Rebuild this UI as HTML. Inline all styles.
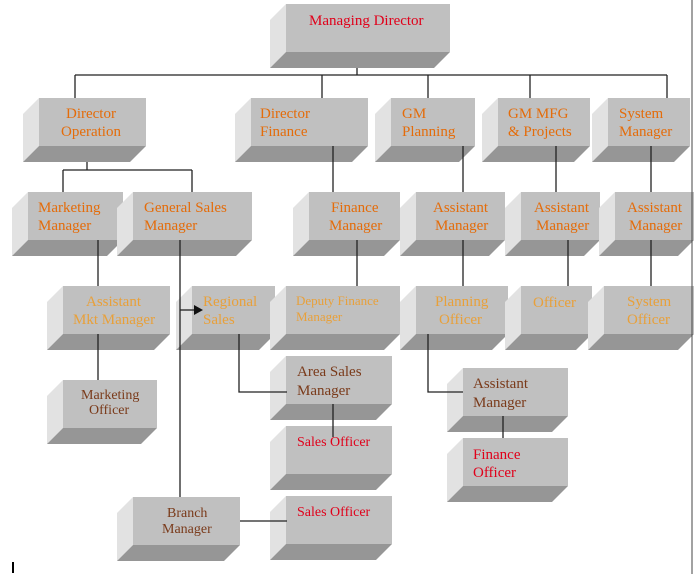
<!DOCTYPE html>
<html><head><style>
html,body{margin:0;padding:0;background:#fff}
svg{display:block}
text{font-family:"Liberation Serif",serif;font-size:15px}
.o{fill:#e46c0a}.r{fill:#e0001a}.b{fill:#7a3a1a}.l{fill:#e8a03a}
.f{fill:#c0c0c0}.s{fill:#e2e2e2}.d{fill:#969696}
line,polyline{stroke:#222;stroke-width:1.3;fill:none}
</style></head><body>
<svg width="694" height="574" viewBox="0 0 694 574">
<!-- connectors -->
<line x1="357" y1="68" x2="357" y2="75"/>
<line x1="75" y1="75" x2="667" y2="75"/>
<line x1="75" y1="75" x2="75" y2="98"/>
<line x1="322" y1="75" x2="322" y2="98"/>
<line x1="428" y1="75" x2="428" y2="98"/>
<line x1="530" y1="75" x2="530" y2="98"/>
<line x1="667" y1="75" x2="667" y2="98"/>
<line x1="87" y1="146" x2="87" y2="170"/>
<line x1="63" y1="170" x2="192" y2="170"/>
<line x1="63" y1="170" x2="63" y2="192"/>
<line x1="192" y1="170" x2="192" y2="192"/>

<!-- boxes -->
<g id="boxes">
<!-- MD 270,4,450,68 -->
<polygon class="s" points="270,20 286,4 286,52 270,68"/><polygon class="d" points="270,68 286,52 450,52 434,68"/><rect class="f" x="286" y="4" width="164" height="48"/>
<!-- DO 23,98,146,162 -->
<polygon class="s" points="23,114 39,98 39,146 23,162"/><polygon class="d" points="23,162 39,146 146,146 130,162"/><rect class="f" x="39" y="98" width="107" height="48"/>
<!-- DF 235,98,368,162 -->
<polygon class="s" points="235,114 251,98 251,146 235,162"/><polygon class="d" points="235,162 251,146 368,146 352,162"/><rect class="f" x="251" y="98" width="117" height="48"/>
<!-- GMP 375,98,475,162 -->
<polygon class="s" points="375,114 391,98 391,146 375,162"/><polygon class="d" points="375,162 391,146 475,146 459,162"/><rect class="f" x="391" y="98" width="84" height="48"/>
<!-- GMM 482,98,590,162 -->
<polygon class="s" points="482,114 498,98 498,146 482,162"/><polygon class="d" points="482,162 498,146 590,146 574,162"/><rect class="f" x="498" y="98" width="92" height="48"/>
<!-- SM 592,98,690,162 -->
<polygon class="s" points="592,114 608,98 608,146 592,162"/><polygon class="d" points="592,162 608,146 690,146 674,162"/><rect class="f" x="608" y="98" width="82" height="48"/>
<!-- MM 12,192,123,256 -->
<polygon class="s" points="12,208 28,192 28,240 12,256"/><polygon class="d" points="12,256 28,240 123,240 107,256"/><rect class="f" x="28" y="192" width="95" height="48"/>
<!-- GSM 117,192,252,256 -->
<polygon class="s" points="117,208 133,192 133,240 117,256"/><polygon class="d" points="117,256 133,240 252,240 236,256"/><rect class="f" x="133" y="192" width="119" height="48"/>
<!-- FM 293,192,400,256 -->
<polygon class="s" points="293,208 309,192 309,240 293,256"/><polygon class="d" points="293,256 309,240 400,240 384,256"/><rect class="f" x="309" y="192" width="91" height="48"/>
<!-- AM 400,192,505,256 -->
<polygon class="s" points="400,208 416,192 416,240 400,256"/><polygon class="d" points="400,256 416,240 505,240 489,256"/><rect class="f" x="416" y="192" width="89" height="48"/>
<!-- AM 505,192,600,256 -->
<polygon class="s" points="505,208 521,192 521,240 505,256"/><polygon class="d" points="505,256 521,240 600,240 584,256"/><rect class="f" x="521" y="192" width="79" height="48"/>
<!-- AM 599,192,694,256 -->
<polygon class="s" points="599,208 615,192 615,240 599,256"/><polygon class="d" points="599,256 615,240 694,240 678,256"/><rect class="f" x="615" y="192" width="79" height="48"/>
<!-- AMM 47,286,170,350 -->
<polygon class="s" points="47,302 63,286 63,334 47,350"/><polygon class="d" points="47,350 63,334 170,334 154,350"/><rect class="f" x="63" y="286" width="107" height="48"/>
<!-- RS 176,286,275,350 -->
<polygon class="s" points="176,302 192,286 192,334 176,350"/><polygon class="d" points="176,350 192,334 275,334 259,350"/><rect class="f" x="192" y="286" width="83" height="48"/>
<!-- DFM 270,286,400,350 -->
<polygon class="s" points="270,302 286,286 286,334 270,350"/><polygon class="d" points="270,350 286,334 400,334 384,350"/><rect class="f" x="286" y="286" width="114" height="48"/>
<!-- PO 400,286,508,350 -->
<polygon class="s" points="400,302 416,286 416,334 400,350"/><polygon class="d" points="400,350 416,334 508,334 492,350"/><rect class="f" x="416" y="286" width="92" height="48"/>
<!-- O 505,286,592,350 -->
<polygon class="s" points="505,302 521,286 521,334 505,350"/><polygon class="d" points="505,350 521,334 592,334 576,350"/><rect class="f" x="521" y="286" width="71" height="48"/>
<!-- SO 588,286,694,350 -->
<polygon class="s" points="588,302 604,286 604,334 588,350"/><polygon class="d" points="588,350 604,334 694,334 678,350"/><rect class="f" x="604" y="286" width="90" height="48"/>
<!-- ASM 270,356,392,420 -->
<polygon class="s" points="270,372 286,356 286,404 270,420"/><polygon class="d" points="270,420 286,404 392,404 376,420"/><rect class="f" x="286" y="356" width="106" height="48"/>
<!-- SalesO 270,426,392,490 -->
<polygon class="s" points="270,442 286,426 286,474 270,490"/><polygon class="d" points="270,490 286,474 392,474 376,490"/><rect class="f" x="286" y="426" width="106" height="48"/>
<!-- SalesO 270,496,392,560 -->
<polygon class="s" points="270,512 286,496 286,544 270,560"/><polygon class="d" points="270,560 286,544 392,544 376,560"/><rect class="f" x="286" y="496" width="106" height="48"/>
<!-- BM 117,497,240,561 -->
<polygon class="s" points="117,513 133,497 133,545 117,561"/><polygon class="d" points="117,561 133,545 240,545 224,561"/><rect class="f" x="133" y="497" width="107" height="48"/>
<!-- MO 47,380,157,444 -->
<polygon class="s" points="47,396 63,380 63,428 47,444"/><polygon class="d" points="47,444 63,428 157,428 141,444"/><rect class="f" x="63" y="380" width="94" height="48"/>
<!-- AM2 447,368,568,432 -->
<polygon class="s" points="447,384 463,368 463,416 447,432"/><polygon class="d" points="447,432 463,416 568,416 552,432"/><rect class="f" x="463" y="368" width="105" height="48"/>
<!-- FO 447,438,568,502 -->
<polygon class="s" points="447,454 463,438 463,486 447,502"/><polygon class="d" points="447,502 463,486 568,486 552,502"/><rect class="f" x="463" y="438" width="105" height="48"/>
</g>

<!-- connectors over boxes -->
<line x1="333" y1="146" x2="333" y2="192"/>
<line x1="463" y1="146" x2="463" y2="192"/>
<line x1="556" y1="146" x2="556" y2="192"/>
<line x1="651" y1="146" x2="651" y2="192"/>
<line x1="98" y1="240" x2="98" y2="286"/>
<line x1="180" y1="240" x2="180" y2="497"/>
<line x1="357" y1="240" x2="357" y2="286"/>
<line x1="463" y1="240" x2="463" y2="286"/>
<line x1="568" y1="240" x2="568" y2="286"/>
<line x1="651" y1="240" x2="651" y2="286"/>
<line x1="98" y1="334" x2="98" y2="380"/>
<line x1="180" y1="310" x2="194" y2="310"/>
<polygon points="194,305 203,310 194,315" fill="#111"/>
<polyline points="239,334 239,392 287,392"/>
<line x1="333" y1="404" x2="333" y2="437"/>
<polyline points="428,334 428,392 463,392"/>
<line x1="503" y1="416" x2="503" y2="438"/>
<line x1="240" y1="521" x2="287" y2="521"/>
<line x1="692" y1="0" x2="692" y2="574" style="stroke:#444;stroke-width:1"/>
<line x1="13" y1="562" x2="13" y2="573" style="stroke:#000;stroke-width:2"/>

<!-- labels -->
<text class="r" x="309" y="25">Managing Director</text>
<text class="o" x="66" y="118">Director</text><text class="o" x="61" y="136">Operation</text>
<text class="o" x="260" y="118">Director</text><text class="o" x="260" y="136">Finance</text>
<text class="o" x="402" y="118">GM</text><text class="o" x="402" y="136">Planning</text>
<text class="o" x="508" y="118">GM MFG</text><text class="o" x="508" y="136">&amp; Projects</text>
<text class="o" x="619" y="118">System</text><text class="o" x="619" y="136">Manager</text>
<text class="o" x="38" y="212">Marketing</text><text class="o" x="38" y="230">Manager</text>
<text class="o" x="144" y="212">General Sales</text><text class="o" x="144" y="230">Manager</text>
<text class="o" x="331" y="212">Finance</text><text class="o" x="329" y="230">Manager</text>
<text class="o" x="433" y="212">Assistant</text><text class="o" x="435" y="230">Manager</text>
<text class="o" x="534" y="212">Assistant</text><text class="o" x="536" y="230">Manager</text>
<text class="o" x="627" y="212">Assistant</text><text class="o" x="629" y="230">Manager</text>
<text class="l" x="86" y="306">Assistant</text><text class="l" x="73" y="324">Mkt Manager</text>
<text class="l" x="203" y="306">Regional</text><text class="l" x="203" y="324">Sales</text>
<text class="l" x="296" y="305" style="font-size:13px">Deputy Finance</text><text class="l" x="296" y="321" style="font-size:13px">Manager</text>
<text class="l" x="435" y="306">Planning</text><text class="l" x="439" y="324">Officer</text>
<text class="l" x="533" y="307">Officer</text>
<text class="l" x="627" y="306">System</text><text class="l" x="627" y="324">Officer</text>
<text class="b" x="297" y="376">Area Sales</text><text class="b" x="297" y="395">Manager</text>
<text class="r" x="297" y="446" style="font-size:14px">Sales Officer</text>
<text class="r" x="297" y="516" style="font-size:14px">Sales Officer</text>
<text class="b" x="167" y="517" style="font-size:14px">Branch</text><text class="b" x="162" y="533" style="font-size:14px">Manager</text>
<text class="b" x="81" y="399" style="font-size:14px">Marketing</text><text class="b" x="89" y="414" style="font-size:14px">Officer</text>
<text class="b" x="473" y="388">Assistant</text><text class="b" x="473" y="407">Manager</text>
<text class="r" x="473" y="459">Finance</text><text class="r" x="473" y="477">Officer</text>
</svg>
</body></html>
